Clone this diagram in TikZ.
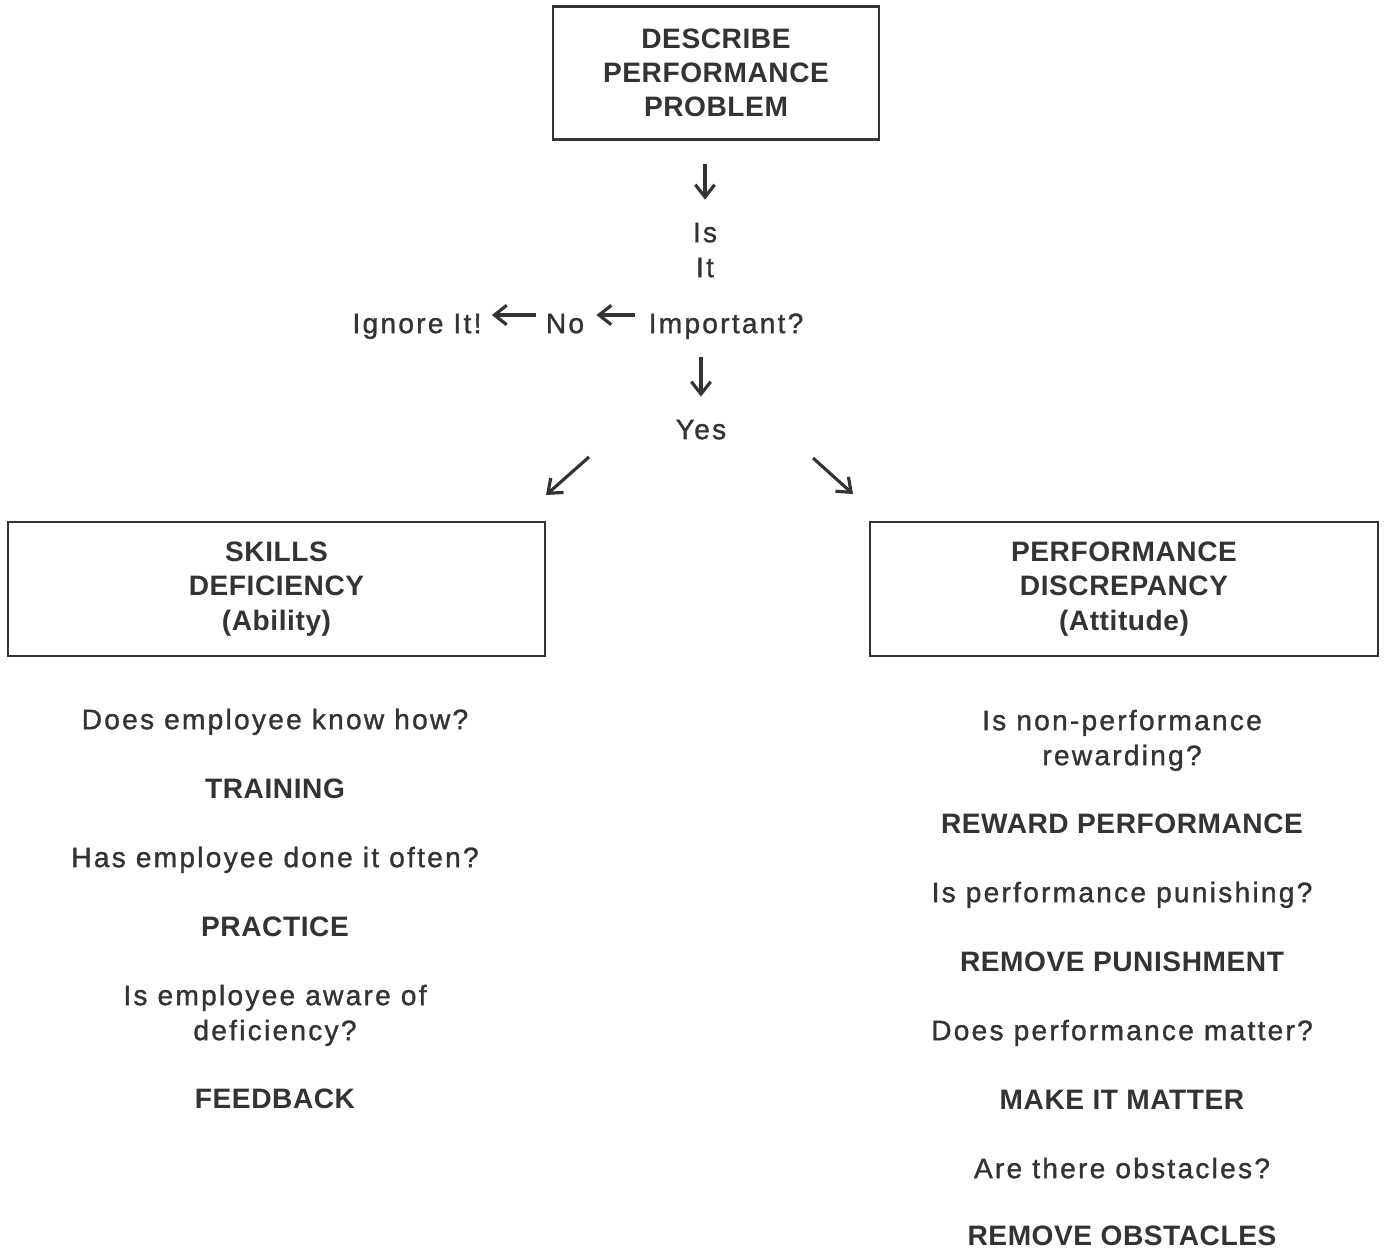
\documentclass[tikz,border=0pt]{standalone}
\usepackage{fontspec}
\setmainfont{Liberation Sans}[UprightFeatures={LetterSpace=8, FakeBold=1.2},
	BoldFeatures={LetterSpace=2}]
\usetikzlibrary{arrows.meta}
\colorlet{ink}{black!80}
\tikzset{txt/.style={inner sep=0pt, text height=11.5pt, text depth=0pt, text=ink,
		font=\fontsize{16}{19.4}\selectfont},
	bold/.style={txt, font=\fontsize{16}{19.4}\selectfont\bfseries},
	box/.style={draw=ink, line width=1.2pt, align=center, text=ink, inner sep=0pt,
		font=\fontsize{16}{19.4}\selectfont\bfseries},
	arr/.style={draw=ink, line width=1.8pt, -{Straight Barb[length=7pt,width=11pt,line width=1.8pt]}},
	bigarr/.style={arr, line width=2.6pt}}

\begin{document}
\begin{tikzpicture}[x=0.02cm, y=-0.02cm]
	\useasboundingbox (0,0) rectangle (1388,1249);
	
	\node[box, minimum width=6.52cm, minimum height=2.66cm] (describe) at (716,73)
	{DESCRIBE\\PERFORMANCE\\PROBLEM};
	
	\node[txt] (isnode) at (705,232) {Is};
	\node[txt] (itnode) at (705,267) {It};
	\node[txt] (important) at (726,323) {Important?};
	\node[txt] (no) at (565,323) {No};
	\node[txt] (ignore) at (417,323) {Ignore It!};
	\node[txt] (yes) at (701,429) {Yes};
	
	\draw[bigarr, shorten <=0.46cm, shorten >=0.44cm] (describe.south -| isnode.north) -- (isnode.north);
	\draw[arr, shorten <=0.26cm, shorten >=0.24cm] ([yshift=0.16cm]important.west) -- ([yshift=0.16cm]no.east);
	\draw[arr, shorten <=0.2cm, shorten >=0.2cm] ([yshift=0.16cm]no.west) -- ([yshift=0.16cm]ignore.east);
	\draw[bigarr, shorten <=0.48cm, shorten >=0.44cm] (important.south -| yes.north) -- (yes.north);
	
	% split into the two boxes
	\node[box, minimum width=10.74cm, minimum height=2.68cm] (skills) at (276.5,589)
	{SKILLS\\DEFICIENCY\\(Ability)};
	\node[box, minimum width=10.16cm, minimum height=2.68cm] (discrepancy) at (1124,589)
	{PERFORMANCE\\DISCREPANCY\\(Attitude)};
	\coordinate (yesL) at (589,457);
	\coordinate (toSkills) at (546,495);
	\coordinate (yesR) at (813,458);
	\coordinate (toDisc) at (853,494);
	\draw[arr] (yesL) -- (toSkills);
	\draw[arr] (yesR) -- (toDisc);
	
	% left column
	\foreach \y/\s/\t [count=\i] in {719/txt/Does employee know how?, 788/bold/TRAINING,
		857/txt/Has employee done it often?, 926/bold/PRACTICE,
		995/txt/Is employee aware of, 1030/txt/deficiency?, 1098/bold/FEEDBACK}
	\node[\s] (left\i) at (275,\y) {\t};
	
	% right column
	\foreach \y/\s/\t [count=\i] in {720/txt/Is non-performance, 755/txt/rewarding?,
		823/bold/REWARD PERFORMANCE, 892/txt/Is performance punishing?,
		961/bold/REMOVE PUNISHMENT, 1030/txt/Does performance matter?,
		1099/bold/MAKE IT MATTER, 1168/txt/Are there obstacles?,
		1235/bold/REMOVE OBSTACLES}
	\node[\s] (right\i) at (1122,\y) {\t};
\end{tikzpicture}
\end{document}
